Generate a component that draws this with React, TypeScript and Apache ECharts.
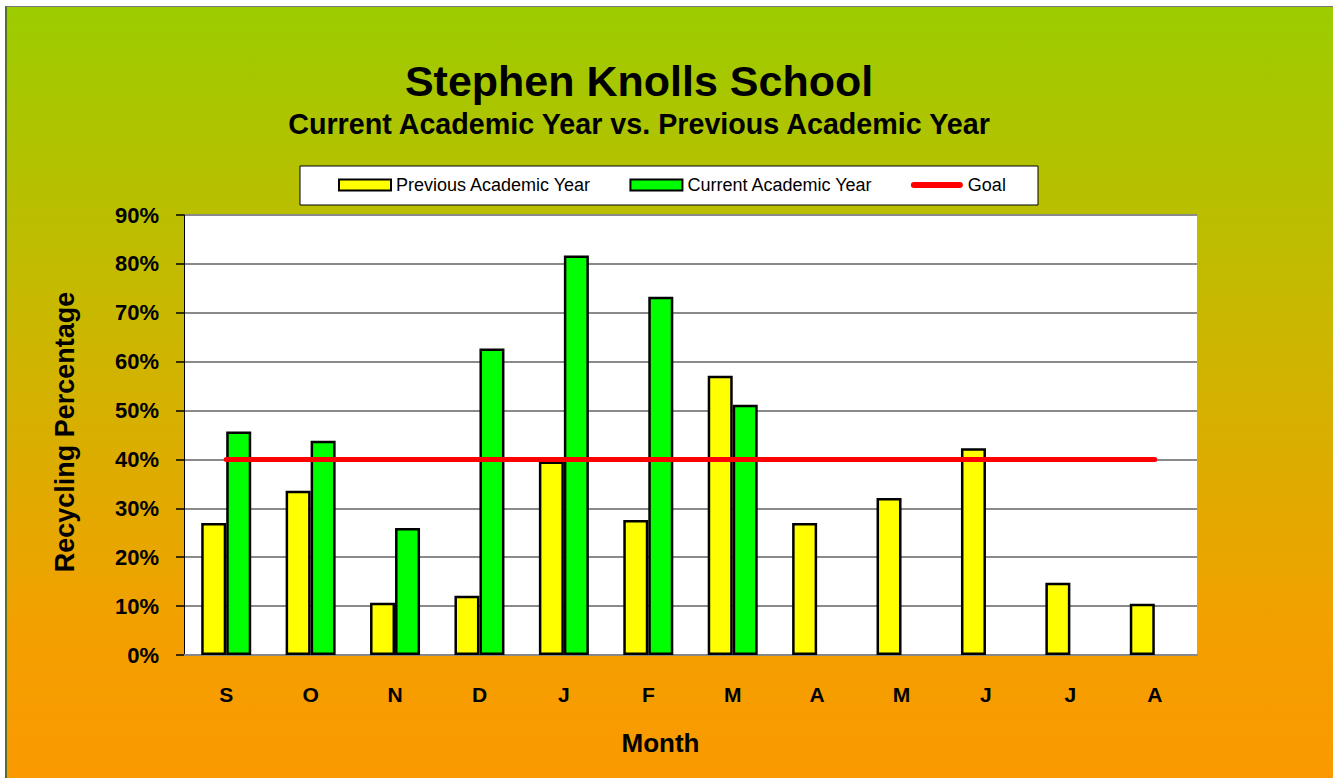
import React, { useEffect, useRef } from "react";
import * as echarts from "echarts";

const months = ["S", "O", "N", "D", "J", "F", "M", "A", "M", "J", "J", "A"];
const previousYear = [27.0, 33.6, 10.7, 12.1, 39.6, 27.6, 57.1, 27.0, 32.1, 42.3, 14.8, 10.5];
const currentYear = [45.7, 43.8, 26.0, 62.7, 81.7, 73.3, 51.2, null, null, null, null, null];
const goal = [40, 40, 40, 40, 40, 40, 40, 40, 40, 40, 40, 40];
const yTicks = { min: 0, max: 90, interval: 10 };

const goalIcon = "path://M0,0 M52,11 M3,2.5 L49,2.5 A3,3 0 0 1 49,8.5 L3,8.5 A3,3 0 0 1 3,2.5 Z";

export default function App() {
  const ref = useRef<HTMLDivElement>(null);
  useEffect(() => {
    document.body.style.margin = "0";
    const chart = echarts.init(ref.current!, null, { renderer: "svg" });
    const bold = { fontFamily: "Liberation Sans, Arial, sans-serif", fontWeight: "bold" as const, color: "#000" };
    chart.setOption({
      animation: false,
      backgroundColor: "transparent",
      title: [
        {
          text: "Stephen Knolls School",
          left: 634,
          top: 54,
          textAlign: "center",
          textStyle: { ...bold, fontSize: 43 },
        },
        {
          text: "Current Academic Year vs. Previous Academic Year",
          left: 634,
          top: 104,
          textAlign: "center",
          textStyle: { ...bold, fontSize: 28.7 },
        },
      ],
      graphic: [
        {
          type: "rect",
          shape: { x: 300, y: 166, width: 738, height: 39 },
          style: { fill: "#fff", stroke: "#000", lineWidth: 1 },
          z: 0,
        },
      ],
      legend: {
        left: 338,
        top: 176,
        padding: 0,
        itemWidth: 52,
        itemHeight: 11,
        itemGap: 38,
        textStyle: { fontFamily: "Liberation Sans Narrow, Arial Narrow, Liberation Sans, sans-serif", fontSize: 18, color: "#000" },
        data: [
          { name: "Previous Academic Year", icon: "rect" },
          { name: "Current Academic Year", icon: "rect" },
          { name: "Goal", icon: goalIcon, itemStyle: { color: "#ff0000", borderWidth: 0 } },
        ],
        z: 5,
      },
      grid: {
        left: 184,
        right: 136,
        top: 215,
        bottom: 123,
        show: true,
        backgroundColor: "#fff",
        borderWidth: 0,
      },
      xAxis: {
        type: "category",
        data: months,
        boundaryGap: true,
        axisLine: { lineStyle: { color: "#888", width: 2 } },
        axisTick: { show: false },
        axisLabel: { ...bold, fontSize: 21, margin: 29 },
        name: "Month",
        nameLocation: "middle",
        nameGap: 75,
        nameTextStyle: { ...bold, fontSize: 26, padding: [0, 60, 0, 0] },
      },
      yAxis: {
        type: "value",
        min: yTicks.min,
        max: yTicks.max,
        interval: yTicks.interval,
        axisLine: { show: true, lineStyle: { color: "#000", width: 1 } },
        axisTick: { show: true, length: 8, lineStyle: { color: "#000", width: 1.5 } },
        axisLabel: { ...bold, fontSize: 22, margin: 25, formatter: "{value}%" },
        splitLine: { lineStyle: { color: "#8a8a8a", width: 2 } },
        name: "Recycling Percentage",
        nameLocation: "middle",
        nameGap: 106,
        nameRotate: 90,
        nameTextStyle: { ...bold, fontSize: 27, padding: [0, 0, 0, 6] },
      },
      series: [
        {
          name: "Previous Academic Year",
          type: "bar",
          data: previousYear,
          barWidth: 25,
          barGap: "0%",
          itemStyle: { color: "#ffff00", borderColor: "#000", borderWidth: 2.5 },
        },
        {
          name: "Current Academic Year",
          type: "bar",
          data: currentYear,
          barWidth: 25,
          barGap: "0%",
          itemStyle: { color: "#00ff00", borderColor: "#000", borderWidth: 2.5 },
        },
        {
          name: "Goal",
          type: "line",
          data: goal,
          symbol: "none",
          z: 10,
          lineStyle: { color: "#ff0000", width: 5, cap: "round" },
          itemStyle: { color: "#ff0000" },
        },
      ],
    });
    return () => chart.dispose();
  }, []);
  return (
    <div style={{ position: "relative", width: 1333, height: 778, background: "#fff", overflow: "hidden" }}>
      <div
        style={{
          position: "absolute",
          left: 5,
          top: 6,
          width: 1328,
          height: 772,
          boxSizing: "border-box",
          borderTop: "1px solid #777",
          borderLeft: "2px solid #556b2f",
          background: "linear-gradient(180deg, #9ccc00 0%, #c9b800 40%, #f49f00 82%, #fa9a00 100%)",
        }}
      />
      <div ref={ref} style={{ position: "absolute", left: 0, top: 0, width: 1333, height: 778 }} />
    </div>
  );
}
